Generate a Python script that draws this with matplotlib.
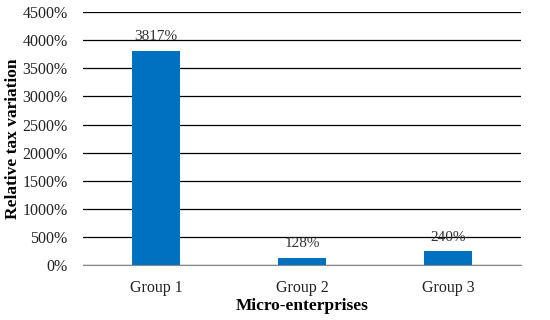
import matplotlib
matplotlib.use("Agg")
import matplotlib.pyplot as plt
from matplotlib.ticker import FuncFormatter

groups = ["Group 1", "Group 2", "Group 3"]
values = [3817, 128, 240]
labels = ["3817%", "128%", "240%"]

plt.rcParams["font.family"] = ["Liberation Serif", "DejaVu Serif"]

fig = plt.figure(figsize=(5.5, 3.2), dpi=100)
ax = fig.add_axes([0.151, 0.172, 0.796, 0.79])

x = range(len(groups))
ax.bar(x, values, width=0.33, color="#0070C0", zorder=3)
for xi, v, lab in zip(x, values, labels):
    ax.text(xi, v + 130, lab, ha="center", va="bottom", fontsize=11, color="#333333", zorder=4)

ax.set_xlim(-0.5, 2.5)
ax.set_ylim(0, 4500)
ax.set_yticks(range(0, 4501, 500))
ax.yaxis.set_major_formatter(FuncFormatter(lambda v, p: f"{int(v)}%"))
ax.set_xticks(list(x))
ax.set_xticklabels(groups)
ax.tick_params(length=0, labelsize=11.5, colors="#222222")
ax.tick_params(axis="y", pad=11)
ax.tick_params(axis="x", pad=11)
ax.grid(axis="y", color="#000000", linewidth=0.9, zorder=0)
for s in ["top", "right", "left"]:
    ax.spines[s].set_visible(False)
ax.spines["bottom"].set_color("#888888")
ax.set_xlabel("Micro-enterprises", fontsize=12.5, fontweight="bold", labelpad=1)
ax.set_ylabel("Relative tax variation", fontsize=12.5, fontweight="bold")
ax.yaxis.set_label_coords(-0.142, 0.5)

fig.savefig("out.png", dpi=100)
